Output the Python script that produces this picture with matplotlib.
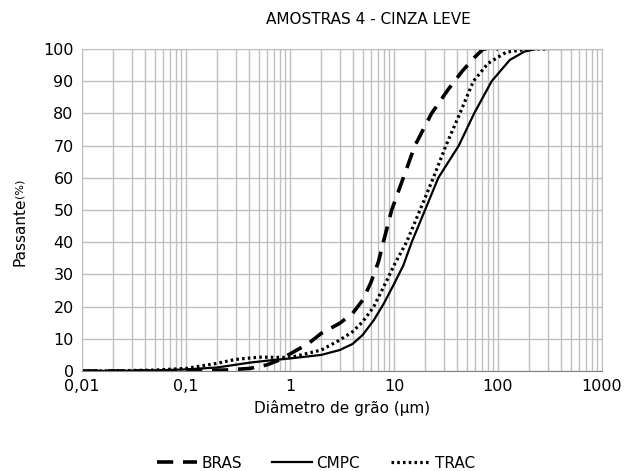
import matplotlib
matplotlib.use("Agg")
import matplotlib.pyplot as plt
from matplotlib.ticker import FixedLocator, LogLocator, NullFormatter

plt.rcParams['font.family'] = ['DejaVu Sans']

# Diâmetro (µm) e passante (%)
bras_d = [0.01, 0.05, 0.1, 0.15, 0.24, 0.41, 0.6, 0.8, 1.0, 1.5, 2.0, 3.0, 4.0, 5.0, 6.0,
          7.1, 7.9, 9.5, 12.3, 15.9, 23, 33, 45, 60, 72, 100]
bras_p = [0.0, 0.0, 0.1, 0.2, 0.3, 0.8, 1.9, 3.5, 5.3, 8.5, 11.7, 14.8, 17.9, 22.0, 27.5,
          34.0, 40.0, 50.0, 60.0, 70.0, 80.0, 87.3, 93.0, 97.5, 100.0, 100.0]

cmpc_d = [0.01, 0.02, 0.05, 0.1, 0.2, 0.41, 0.6, 1.0, 2.0, 3.0, 4.0, 5.0, 6.4, 8.0, 10,
          12.3, 14.8, 19.9, 26.7, 42, 59, 87, 130, 180, 234, 300, 500]
cmpc_p = [0.0, 0.05, 0.2, 0.5, 1.1, 2.6, 3.2, 3.9, 5.0, 6.5, 8.4, 11.2, 15.8, 21.0, 27.0,
          32.8, 40.0, 50.0, 60.0, 70.0, 80.0, 90.0, 96.6, 99.2, 100.0, 100.0, 100.0]

trac_d = [0.01, 0.02, 0.05, 0.1, 0.2, 0.3, 0.5, 1.0, 2.0, 3.0, 4.0, 5.0, 6.4, 8.8, 10,
          13.2, 17.8, 23.9, 31.6, 43, 58, 80, 120, 200, 300]
trac_p = [0.0, 0.05, 0.3, 0.8, 2.4, 3.6, 4.3, 4.2, 6.5, 9.6, 12.2, 15.3, 20.0, 29.0, 32.8,
          40.0, 50.0, 60.0, 70.0, 80.0, 90.0, 95.5, 99.0, 100.0, 100.0]

x_ticks = [0.01, 0.1, 1, 10, 100, 1000]
x_labels = ["0,01", "0,1", "1", "10", "100", "1000"]
y_ticks = list(range(0, 101, 10))

fig = plt.figure(figsize=(6.24, 4.71), dpi=100)
ax = fig.add_axes([0.1314, 0.2123, 0.8333, 0.6837])

ax.plot(bras_d, bras_p, color='black', lw=2.6, ls=(0, (4.5, 2.7)), label='BRAS')
ax.plot(cmpc_d, cmpc_p, color='black', lw=1.6, ls='-', label='CMPC')
ax.plot(trac_d, trac_p, color='black', lw=2.3, ls=(0, (0.8, 1.0)), label='TRAC')

ax.set_xscale('log')
ax.set_xlim(0.01, 1000)
ax.set_ylim(0, 100)
ax.xaxis.set_major_locator(FixedLocator(x_ticks))
ax.set_xticklabels(x_labels)
ax.xaxis.set_minor_locator(LogLocator(base=10, subs=range(2, 10), numticks=20))
ax.xaxis.set_minor_formatter(NullFormatter())
ax.set_yticks(y_ticks)

ax.grid(True, which='both', axis='x', color='#bfbfbf', lw=1.0)
ax.grid(True, which='major', axis='y', color='#bfbfbf', lw=1.0)
ax.set_axisbelow(True)
for s in ax.spines.values():
    s.set_color('#bfbfbf')
ax.spines['bottom'].set_color('#808080')
ax.tick_params(axis='both', which='both', length=0, labelsize=11.5, pad=6)

ax.set_title("AMOSTRAS 4 - CINZA LEVE", fontsize=11, pad=18, x=0.55)
ax.set_xlabel("Diâmetro de grão (µm)", fontsize=11)
fig.text(0.032, 0.508, "Passante", rotation=90, fontsize=11, ha='center', va='center')
fig.text(0.032, 0.601, "(%)", rotation=90, fontsize=8, ha='center', va='center')

ax.legend(loc='upper center', bbox_to_anchor=(0.45, -0.22), ncol=3, frameon=False,
          fontsize=11, handlelength=2.6, columnspacing=2.0, handletextpad=0.3)

fig.savefig("out.png", dpi=100)
